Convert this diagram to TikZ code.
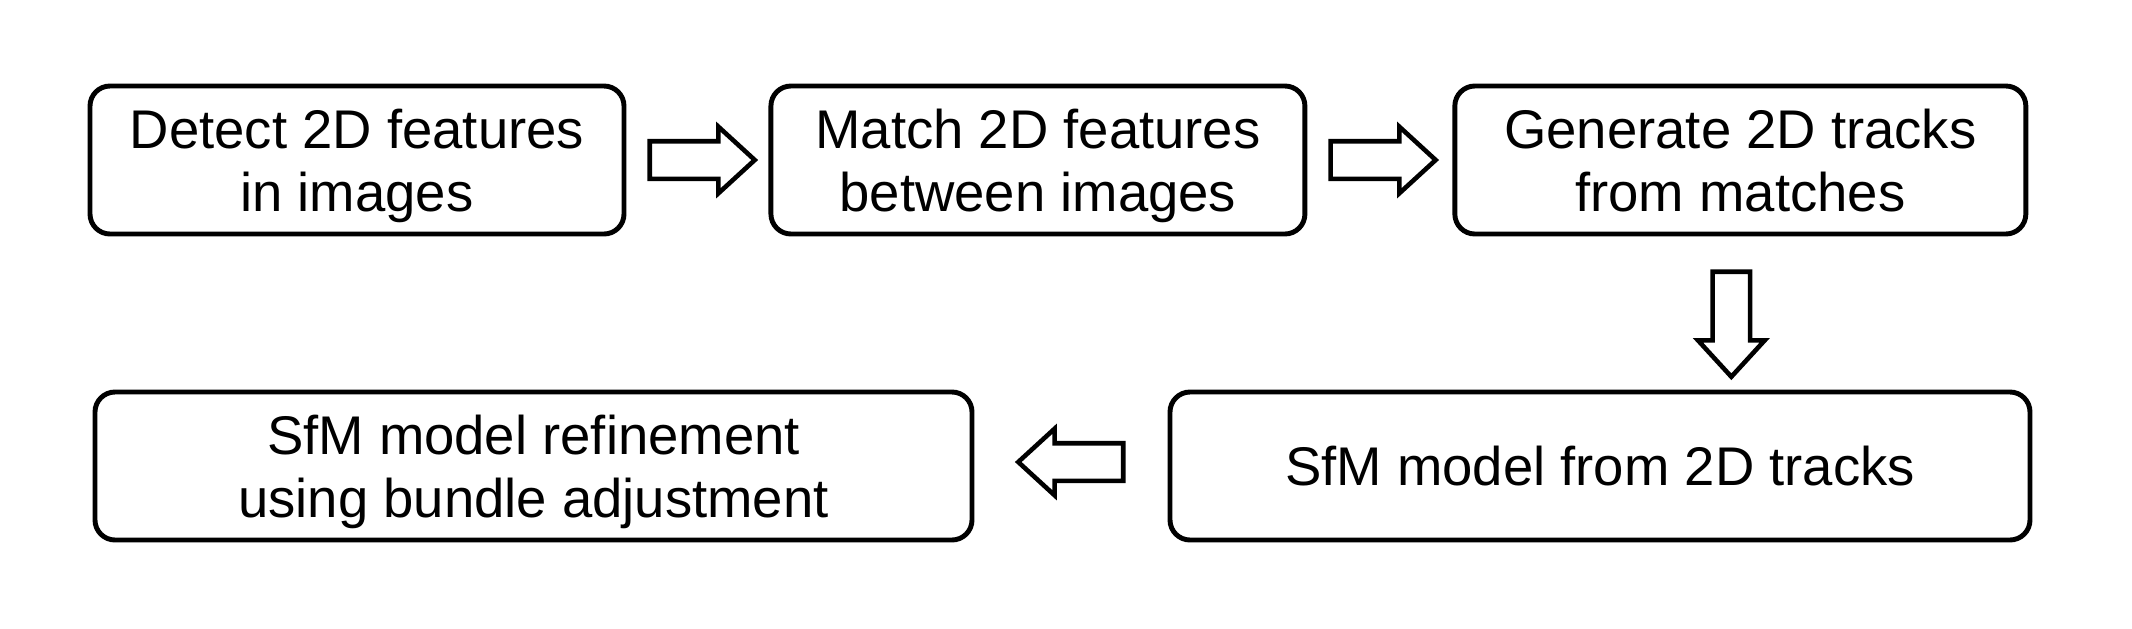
\documentclass[tikz,border=0pt]{standalone}
\usepackage{fontspec}
\setmainfont{Liberation Sans}
\usetikzlibrary{positioning,calc,shapes.arrows}
\tikzset{%
  % Specifications for style of nodes:
            base/.style = {rectangle, rounded corners=0.2cm, draw=black,
                           line width=1.4pt, minimum height=1.48cm,
                           text centered, align=center, text depth=0pt,
                           font=\fontsize{15.5}{18}\selectfont},
           stage/.style = {base, fill=white},
       blockarrow/.style = {single arrow, draw=black, fill=white,
                           line width=1.3pt, inner sep=0.165cm,
                           minimum height=1.05cm, anchor=tail,
                           single arrow head extend=0.145cm,
                           single arrow tip angle=85}
}
\begin{document}
\begin{tikzpicture}
  \useasboundingbox (0,0) rectangle (21.32,6.28);
  % Specification of nodes (position, etc.)
  \node (detect)   [stage, minimum width=5.34cm] at (3.57,4.68)     {Detect 2D features\\in images};
  \node (match)    [stage, minimum width=5.34cm, right=1.42cm of detect] {Match 2D features\\between images};
  \node (tracks)   [stage, minimum width=5.71cm, right=1.45cm of match]  {Generate 2D tracks\\from matches};
  \node (sfm)      [stage, minimum width=8.60cm] at (16.00,1.62)    {SfM model from 2D tracks};
  \node (refine)   [stage, minimum width=8.77cm] at (5.335,1.62)    {SfM model refinement\\using bundle adjustment};

  % block arrows between the stages
  \node (arr1) [blockarrow] at ($(detect.east)+(0.21,0)$) {};
  \node (arr2) [blockarrow] at ($(match.east)+(0.21,0)$) {};
  \node (arr3) [blockarrow, shape border rotate=270] at ($(tracks.south)+(-0.09,-0.33)$) {};
  \node (arr4) [blockarrow, shape border rotate=180] at ($(sfm.west)+(-0.42,0.04)$) {};
\end{tikzpicture}
\end{document}
